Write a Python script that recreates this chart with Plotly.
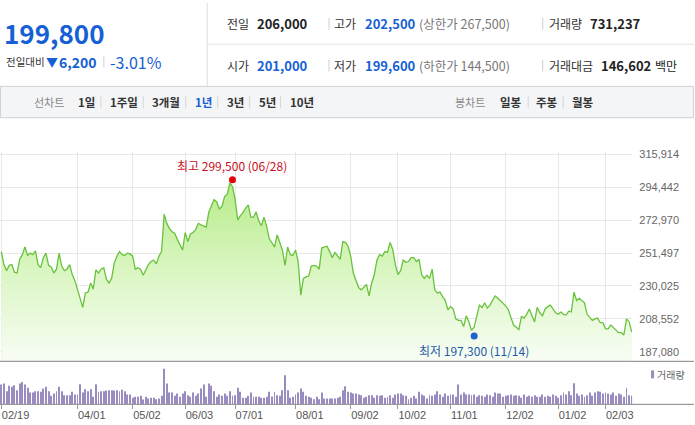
import plotly.graph_objects as go

# daily closing price, one value per trading day (02/19 ... 02/xx)
close = [
    252500, 244000, 240000, 243500, 244000, 239000, 238500, 247500, 250500, 255500,
    250000, 251500, 250500, 253000, 244000, 242000, 248500, 251500, 243500, 242500,
    238500, 241000, 251500, 243000, 240000, 241000, 244000, 237500, 233500, 228000,
    221000, 216000, 225500, 226000, 232000, 228000, 240500, 238500, 241000, 242000,
    234500, 232000, 235000, 245000, 249500, 252500, 250500, 250000, 251500, 251000,
    249500, 241000, 242000, 241000, 237000, 241000, 244000, 246000, 247000, 244500,
    249500, 252500,
    277000, 271000, 267500, 265500, 264500, 260500, 257000, 253500, 265000, 259000,
    264000, 265000, 267000, 271000, 270000, 269000, 268500, 278500, 283000, 286500,
    285000, 280500, 282000, 288500, 290000, 297500, 295000, 286500, 273000, 276000,
    278000, 281000, 283000, 275000, 275000, 278500, 272500, 269500, 275000, 269000,
    261000, 258500, 255500, 263500, 259000, 253500, 243500, 255500, 250500, 250000,
    253500, 246000, 224000, 235000, 236000, 236500, 243000, 243500, 243000, 241000,
    255000, 255500, 256000, 252500, 248500, 252000, 250000, 247500, 259000, 258500,
    256000, 249500, 238500, 233500, 229000, 227500, 229500, 231000, 223500, 232000,
    237500, 247000, 250500, 249500, 252500, 252000, 258500, 254000, 244000, 237500,
    240000, 247000, 245500, 246000, 248500, 248500, 246000, 247500, 237500, 235000,
    237000, 235000, 241000, 227500, 225500, 226000, 223000, 220500, 214500, 216500,
    215000, 208500, 207500, 207500, 203500, 210500, 206500, 201000, 203000, 209500,
    217500, 216000, 219000, 215500, 217500, 220500, 223500, 222000, 220500, 219000,
    217000, 214500, 209500, 204500, 203000, 201500, 210000, 209000, 211500, 215000,
    210500, 206500, 216000, 212500, 210500, 215000, 216500, 217500, 215000, 212500,
    211500, 213000, 211500, 211000, 213500, 213000, 226000, 220500, 222000, 220500,
    219000, 211500, 209500, 207500, 208500, 209000, 206000, 206000, 202000, 202000,
    204500, 203000, 201000, 199500, 199500, 198000, 208500, 206500, 199800,
]

# daily volume, thousand shares
volume_k = [
    1680, 1764, 1117, 1571, 1487, 1621, 1201, 1764, 1907, 1680,
    1403, 1008, 1008, 1117, 1117, 1067, 1344, 1487, 1117, 731,
    924, 1117, 1487, 1117, 781, 781, 781, 1067, 840, 840,
    1705, 1008, 1285, 1117, 1285, 647, 1705, 1067, 1117, 1117,
    1176, 1201, 1201, 1176, 1201, 1117, 1235, 1117, 840, 840,
    563, 647, 647, 731, 420, 647, 504, 563, 563, 445,
    504, 731, 3024, 1764, 1008, 1008, 731, 924, 647, 924,
    1117, 781, 647, 1008, 731, 924, 1344, 1680, 647, 1764,
    1571, 1117, 647, 840, 731, 924, 731, 1117, 731, 781,
    1403, 1067, 563, 563, 731, 1008, 647, 647, 647, 563,
    563, 647, 1067, 672, 1067, 781, 731, 1201, 2461, 1201,
    563, 647, 840, 1008, 1344, 1067, 731, 647, 563, 445,
    647, 445, 1008, 504,
    504, 504, 504, 504, 563, 647, 1201, 1537, 1067, 1008,
    924, 924, 840, 781, 563, 647, 781, 781, 563, 781,
    731, 781, 563, 647, 781, 563, 840, 924, 924, 781,
    731, 445, 563, 731, 504, 1067, 840, 731, 504, 781,
    731, 840, 1117, 840, 647, 924, 731, 840, 840, 647,
    1680, 840, 1008, 840, 840, 781, 840, 647, 781, 731,
    647, 840, 781, 647, 1008, 924, 924, 647, 731, 781,
    840, 731, 781, 731, 563, 840, 647, 731, 647, 781,
    647, 647, 840, 647, 731, 647, 840, 731, 563, 781,
    1008, 840, 1117, 781, 1789, 924, 731, 840, 647, 781,
    1008, 731, 1008, 1117, 1067, 924, 1008, 924, 840, 1008,
    731, 924, 840, 647, 1403, 781, 731,
]

tick_idx = [0, 29, 50, 70, 89, 112, 133, 151, 171, 192, 212, 230]
tick_txt = ['02/19', '04/01', '05/02', '06/03', '07/01', '08/01',
            '09/02', '10/02', '11/01', '12/02', '01/02', '02/03']
price_ticks = [187080, 208552, 230025, 251497, 272970, 294442, 315914]

hi_idx, hi_val, hi_date = 88, 299500, '06/28'
lo_idx, lo_val, lo_date = 180, 197300, '11/14'

W, H = 695, 425
KR = 'Noto Sans CJK KR'
NUM = 'Liberation Sans, Arial'
BLUE = '#1560d4'

days = list(range(len(close)))


def label(x, y, text, size, color, bold=False, fam=KR):
    if bold:
        text = '<b>' + text + '</b>'
    return dict(x=x / W, y=1 - y / H, xref='paper', yref='paper', text=text,
                showarrow=False, xanchor='left', yanchor='middle', borderpad=0,
                font=dict(family=fam, size=size, color=color))


def hline(x0, x1, y, color, w=1):
    return dict(type='line', xref='paper', yref='paper', x0=x0 / W, x1=x1 / W,
                y0=1 - y / H, y1=1 - y / H, line=dict(color=color, width=w))


def vline(x, y0, y1, color, w=1):
    return dict(type='line', xref='paper', yref='paper', x0=x / W, x1=x / W,
                y0=1 - y0 / H, y1=1 - y1 / H, line=dict(color=color, width=w))


fig = go.Figure()

fig.add_trace(go.Scatter(
    x=days, y=close, mode='lines',
    line=dict(color='#68c23c', width=1.3),
    fill='tozeroy',
    fillgradient=dict(type='vertical', start=180665, stop=300000,
                      colorscale=[[0, 'rgb(249,253,246)'], [0.5, 'rgb(218,246,194)'],
                                  [1, 'rgb(182,235,136)']]),
    hoverinfo='skip'))

fig.add_trace(go.Scatter(x=[hi_idx], y=[hi_val], mode='markers',
                         marker=dict(color='#e8000b', size=7), hoverinfo='skip'))
fig.add_trace(go.Scatter(x=[lo_idx], y=[lo_val], mode='markers',
                         marker=dict(color='#1f63cf', size=7), hoverinfo='skip'))

fig.add_trace(go.Bar(x=days, y=volume_k, xaxis='x2', yaxis='y2', width=0.36,
                     marker=dict(color='#9a8cc0', line=dict(width=0)), hoverinfo='skip'))

grid = '#e8e8e8'
fig.update_layout(
    width=W, height=H, margin=dict(l=0, r=0, t=0, b=0),
    paper_bgcolor='white', plot_bgcolor='white', showlegend=False,
    xaxis=dict(domain=[0, 633 / W], range=[-0.5, 240.12], tickvals=tick_idx,
               showticklabels=False, showgrid=True, gridcolor=grid, gridwidth=1,
               zeroline=False, ticks='', anchor='y'),
    yaxis=dict(domain=[1 - 361 / H, 1 - 150 / H], range=[180665, 317667], side='right',
               tickvals=price_ticks, ticktext=[f'{v:,}' for v in price_ticks],
               showgrid=True, gridcolor=grid, zeroline=False, anchor='x',
               ticks='outside', ticklen=4, tickcolor='rgba(0,0,0,0)',
               tickfont=dict(family=NUM, size=11, color='#666')),
    xaxis2=dict(domain=[0, 633 / W], matches='x', anchor='y2', tickvals=tick_idx,
                ticktext=tick_txt, ticks='outside', ticklen=4, tickcolor='#999',
                ticklabelposition='outside right', showgrid=False, zeroline=False,
                tickfont=dict(family=NUM, size=11, color='#555')),
    yaxis2=dict(domain=[1 - 404.3 / H, 1 - 361 / H], range=[0, 3637], visible=False),
)

ann = [
    dict(x=hi_idx, y=hi_val, xref='x', yref='y', yshift=14, showarrow=False,
         text=f'최고 {hi_val:,} ({hi_date})', font=dict(family=KR, size=12, color='#c8101e')),
    dict(x=lo_idx, y=lo_val, xref='x', yref='y', yshift=-14, showarrow=False,
         text=f'최저 {lo_val:,} ({lo_date})', font=dict(family=KR, size=12, color='#1d5aa8')),
    label(657, 374, '거래량', 10, '#666'),
    # header: current price
    label(3, 30, '199,800', 26, BLUE, bold=True),
    label(5, 59, '전일대비', 10.5, '#333'),
    label(45, 59, '▼', 12, BLUE),
    label(58, 59, '6,200', 14, BLUE, bold=True),
    label(109, 59, '-3.01%', 16, BLUE),
    # header: table row 1
    label(226, 21, '전일', 12, '#333'),
    label(256, 21, '206,000', 13, '#222', bold=True),
    label(333, 21, '고가', 12, '#333'),
    label(365, 21, '202,500', 13, BLUE, bold=True),
    label(419, 21, '(상한가 267,500)', 12.5, '#777'),
    label(549, 21, '거래량', 12, '#333'),
    label(590, 21, '731,237', 13, '#222', bold=True),
    # row 2
    label(226, 63, '시가', 12, '#333'),
    label(256, 63, '201,000', 13, BLUE, bold=True),
    label(333, 63, '저가', 12, '#333'),
    label(365, 63, '199,600', 13, BLUE, bold=True),
    label(419, 63, '(하한가 144,500)', 12.5, '#777'),
    label(549, 63, '거래대금', 12, '#333'),
    label(601, 63, '146,602', 13, '#222', bold=True),
    label(655, 63, '백만', 12, '#222'),
    # tab bar
    label(33, 100, '선차트', 11, '#888'),
    label(77, 100, '1일', 11.5, '#333', bold=True),
    label(109, 100, '1주일', 11.5, '#333', bold=True),
    label(151, 100, '3개월', 11.5, '#333', bold=True),
    label(194, 100, '1년', 11.5, BLUE, bold=True),
    label(226, 100, '3년', 11.5, '#333', bold=True),
    label(258, 100, '5년', 11.5, '#333', bold=True),
    label(289, 100, '10년', 11.5, '#333', bold=True),
    label(455, 100, '봉차트', 11, '#888'),
    label(500, 100, '일봉', 11.5, '#333', bold=True),
    label(536, 100, '주봉', 11.5, '#333', bold=True),
    label(572, 100, '월봉', 11.5, '#333', bold=True),
]

shapes = [
    dict(type='rect', xref='paper', yref='paper', x0=0.5 / W, x1=694.5 / W,
         y0=1 - 115.5 / H, y1=1 - 84 / H, fillcolor='#f4f5f7',
         line=dict(color='#cfd2d6', width=1), layer='below'),
    vline(207.5, 0, 84, '#dcdcdc'),
    hline(207.5, 695, 41.5, '#e2e2e2'),
    vline(104, 53, 65, '#d0d0d0'),
    vline(329.5, 15, 27, '#cfcfcf'), vline(543.5, 15, 27, '#cfcfcf'),
    vline(329.5, 57, 69, '#cfcfcf'), vline(543.5, 57, 69, '#cfcfcf'),
    hline(0, 695, 361, '#9a9a9a', 1.2),
    hline(0, 695, 404.3, '#9a9a9a', 1.2),
    dict(type='rect', xref='paper', yref='paper', x0=652 / W, x1=655 / W,
         y0=1 - 378 / H, y1=1 - 370 / H, fillcolor='#9a8cc0', line=dict(width=0)),
]
for sx in [101, 143.5, 186, 218, 250, 281, 529, 564]:
    shapes.append(vline(sx, 94, 106, '#d6d6d6'))

fig.update_layout(annotations=ann, shapes=shapes)

fig.write_html('out.html', config={'displayModeBar': False},
               post_script="document.body.style.margin='0';")
